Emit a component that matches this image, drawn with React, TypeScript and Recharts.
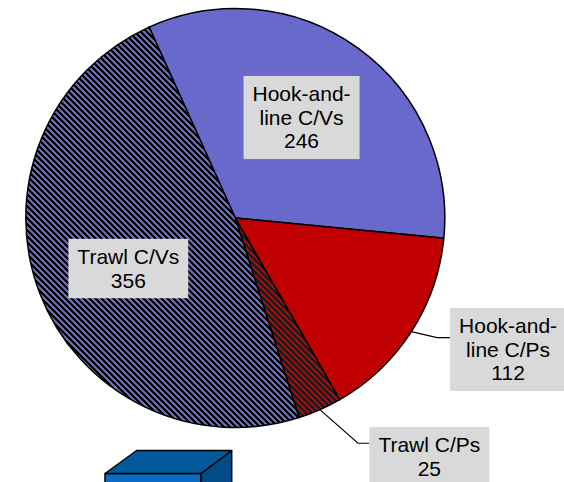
import React from "react";
import { PieChart, Pie, Cell, Customized } from "recharts";

// ---- data ----
const categories = ["Hook-and-\nline C/Vs", "Hook-and-\nline C/Ps", "Trawl C/Ps", "Trawl C/Vs"];
const vessels = [246, 112, 25, 356];

const data = categories.map((name, i) => ({ name, value: vessels[i] }));

// ---- styles / layout ----
const W = 564;
const H = 482;
const CX = 235.3;
const CY = 218;
const R = 209.5;
const START = 114.3;
const FONT = "'Liberation Sans', Arial, sans-serif";
const FS = 21;
const LINE = 23.7;
const BOX_FILL = "#D9D9D9";
const BLUE = "#6969CC";
const RED = "#C00000";

const fills = [BLUE, RED, "url(#hatchRed)", "url(#hatchBlue)"];

type Layout =
  | { kind: "inside"; rf: number; dx: number; dy: number }
  | { kind: "outside"; elbow: [number, number]; endDx: number; boxTop: number };

const labelLayout: Layout[] = [
  { kind: "inside", rf: 0.57, dx: -3.3, dy: -3.4 },
  { kind: "outside", elbow: [25.7, 6.1], endDx: 38.7, boxTop: -23.6 },
  { kind: "outside", elbow: [38.1, 33.6], endDx: 49.5, boxTop: 17.3 },
  { kind: "inside", rf: 0.57, dx: 4.5, dy: 7.7 },
];

let ctx: CanvasRenderingContext2D | null = null;
function textWidth(s: string): number {
  if (!ctx && typeof document !== "undefined") {
    ctx = document.createElement("canvas").getContext("2d");
  }
  if (ctx) {
    ctx.font = `${FS}px 'Liberation Sans', Arial, sans-serif`;
    return ctx.measureText(s).width;
  }
  return s.length * FS * 0.55;
}

const RAD = Math.PI / 180;

function renderLabel(props: any) {
  const { cx, cy, midAngle, outerRadius, index, value } = props;
  const lay = labelLayout[index];
  const lines = [...String(categories[index]).split("\n"), String(value)];
  const tw = Math.max(...lines.map(textWidth));
  const bw = tw + 18;
  const bh = lines.length * LINE + 12;
  const cos = Math.cos(-midAngle * RAD);
  const sin = Math.sin(-midAngle * RAD);

  let left = 0;
  let top = 0;
  let leader: React.ReactNode = null;

  if (lay.kind === "inside") {
    const r = outerRadius * lay.rf;
    const ax = cx + r * cos + lay.dx;
    const ay = cy + r * sin + lay.dy;
    left = ax - bw / 2;
    top = ay - bh / 2;
  } else {
    const ex = cx + outerRadius * cos;
    const ey = cy + outerRadius * sin;
    const elx = ex + lay.elbow[0];
    const ely = ey + lay.elbow[1];
    const endx = ex + lay.endDx;
    left = endx;
    top = ey + lay.boxTop;
    leader = (
      <polyline
        points={`${ex},${ey} ${elx},${ely} ${endx},${ely}`}
        fill="none"
        stroke="#000"
        strokeWidth={1.2}
      />
    );
  }
  const mid = left + bw / 2;
  return (
    <g key={`lbl-${index}`}>
      {leader}
      <rect x={left} y={top} width={bw} height={bh} fill={BOX_FILL} />
      <text
        x={mid}
        y={top + 25}
        textAnchor="middle"
        fontFamily={FONT}
        fontSize={FS}
        fill="#000"
      >
        {lines.map((ln, i) => (
          <tspan key={i} x={mid} y={top + 25 + i * LINE}>
            {ln}
          </tspan>
        ))}
      </text>
    </g>
  );
}

const P = 6; // hatch period in pixels
const hatchCells: { x: number; y: number }[] = [];
for (let y = 0; y < P; y++) {
  for (let k = 0; k < P / 2; k++) {
    hatchCells.push({ x: (y + k) % P, y });
  }
}

function Hatch({ id, bg, fg }: { id: string; bg: string; fg: string }) {
  return (
    <pattern id={id} patternUnits="userSpaceOnUse" x={0} y={0} width={P} height={P}>
      <rect x={0} y={0} width={P} height={P} fill={bg} shapeRendering="crispEdges" />
      {hatchCells.map((c, i) => (
        <rect key={i} x={c.x} y={c.y} width={1} height={1} fill={fg} shapeRendering="crispEdges" />
      ))}
    </pattern>
  );
}

function Defs() {
  return (
    <defs>
      <Hatch id="hatchBlue" bg={BLUE} fg="#000" />
      <Hatch id="hatchRed" bg={RED} fg="#1a1a1a" />
    </defs>
  );
}

function BlueBox() {
  return (
    <g stroke="#000" strokeWidth={1.5} strokeLinejoin="round">
      <polygon points="105,473.5 201,473.5 201,492 105,492" fill="#0A6CC2" />
      <polygon points="201,473.5 231.7,450.5 231.7,492 201,492" fill="#034B86" />
      <polygon points="105,473.5 136.7,450.5 231.7,450.5 201,473.5" fill="#02599C" />
    </g>
  );
}

export default function App() {
  return (
    <div style={{ position: "absolute", left: 0, top: 0, width: W, height: H, background: "#fff" }}>
      <PieChart width={W} height={H} margin={{ top: 0, right: 0, bottom: 0, left: 0 }}>
        <Customized component={Defs} />
        <Pie
          data={data}
          dataKey="value"
          nameKey="name"
          cx={CX}
          cy={CY}
          outerRadius={R}
          innerRadius={0}
          startAngle={START}
          endAngle={START - 360}
          stroke="#000"
          strokeWidth={1.5}
          label={renderLabel}
          labelLine={false}
          isAnimationActive={false}
        >
          {data.map((d, i) => (
            <Cell key={d.name} fill={fills[i]} stroke="#000" strokeWidth={1.5} />
          ))}
        </Pie>
        <Customized component={BlueBox} />
      </PieChart>
    </div>
  );
}
